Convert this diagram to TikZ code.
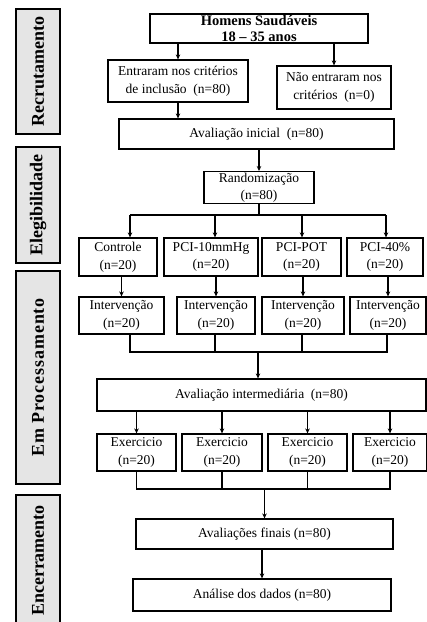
\documentclass[tikz,border=0pt]{standalone}
\usepackage{fontspec}
\setmainfont{Liberation Serif}
\usetikzlibrary{arrows.meta}
\usetikzlibrary{positioning}

\begin{document}
\begin{tikzpicture}[x=1pt,y=-1pt,>={Stealth[length=5pt,width=4.5pt]},line width=1.2pt,
	box/.style={draw,rectangle,align=center,inner sep=1pt,font=\fontsize{13.5}{17.5}\selectfont},
	bar/.style={draw,fill=gray!20,rotate=90,minimum height=44pt,inner sep=0pt,
		line width=1.4pt,font=\fontsize{18}{20}\selectfont\bfseries}]

	\useasboundingbox (0,0) rectangle (427,622);

	\node[bar,minimum width=125pt] (recr) at (38,71.5) {Recrutamento};
	\node[bar,minimum width=116pt] (eleg) at (38,205) {Elegibilidade};
	\node[bar,minimum width=213pt] (proc) at (38,377.5) {\addfontfeature{LetterSpace=5}Em Processamento};
	\node[bar,minimum width=131pt] (ence) at (38,560.5) {Encerramento};

	\node[box,minimum width=218pt,minimum height=29pt,font=\fontsize{14.5}{16.5}\selectfont\bfseries] (homens) at (259,28.5) {Homens Saudáveis\\18 -- 35 anos};
	\node[box,minimum width=140pt,minimum height=42pt] (entraram) at (178,81) {Entraram nos critérios\\de inclusão~ (n=80)};
	\node[box,minimum width=114pt,minimum height=43pt] (nao) at (334,87.5) {Não entraram nos\\critérios~ (n=0)};
	\node[box,minimum width=275pt,minimum height=30pt] (avalini) at (256.5,134) {Avaliação inicial~ (n=80)};
	\node[box,minimum width=110pt,minimum height=31pt] (random) at (259,187.5) {Randomização\\(n=80)};

	\node[box,minimum width=78pt,minimum height=38pt] (controle) at (118,257) {Controle\\(n=20)};
	\node[box,minimum width=94pt,minimum height=38pt] (pci10) at (211,257) {PCI-10mmHg\\(n=20)};
	\node[box,minimum width=79pt,minimum height=38pt] (pcipot) at (301.5,257) {PCI-POT\\(n=20)};
	\node[box,minimum width=76pt,minimum height=38pt] (pci40) at (385,257) {PCI-40\%\\(n=20)};

	\node[box,minimum width=85pt,minimum height=37pt] (interv1) at (121.5,315.5) {Intervenção\\(n=20)};
	\node[box,minimum width=78pt,minimum height=37pt] (interv2) at (216,315.5) {Intervenção\\(n=20)};
	\node[box,minimum width=82pt,minimum height=37pt] (interv3) at (303,315.5) {Intervenção\\(n=20)};
	\node[box,minimum width=76pt,minimum height=37pt] (interv4) at (388,315.5) {Intervenção\\(n=20)};

	\node[box,minimum width=329pt,minimum height=32pt] (avalint) at (261.5,395) {Avaliação intermediária~ (n=80)};

	\node[box,minimum width=79pt,minimum height=37pt] (exerc1) at (136.5,452.5) {Exercicio\\(n=20)};
	\node[box,minimum width=80pt,minimum height=37pt] (exerc2) at (222,452.5) {Exercicio\\(n=20)};
	\node[box,minimum width=79pt,minimum height=37pt] (exerc3) at (307.5,452.5) {Exercicio\\(n=20)};
	\node[box,minimum width=74pt,minimum height=37pt] (exerc4) at (390,452.5) {Exercicio\\(n=20)};

	\node[box,minimum width=257pt,minimum height=30pt] (avalfin) at (264.5,534) {Avaliações finais (n=80)};
	\node[box,minimum width=258pt,minimum height=32pt] (analise) at (262,595) {Análise dos dados (n=80)};

	\coordinate (br1) at (130,215);
	\coordinate (br2) at (215,215);
	\coordinate (br3) at (302,215);
	\coordinate (br4) at (386,215);
	\coordinate (j1) at (130,352);
	\coordinate (j2) at (215,352);
	\coordinate (j3) at (302,352);
	\coordinate (j4) at (387,352);
	\coordinate (jm) at (258,352);
	\coordinate (kk) at (0,489);

	\path[->]
	(homens.south -| entraram) edge (entraram)
	(homens.south -| nao) edge (nao)
	(entraram) edge (entraram |- avalini.north)
	(avalini.south -| random) edge (random)
	(br1) edge (br1 |- controle.north)
	(br2) edge (br2 |- pci10.north)
	(br3) edge (br3 |- pcipot.north)
	(br4) edge (br4 |- pci40.north)
	(controle.south -| interv1) edge (interv1)
	(pci10.south -| interv2) edge (interv2)
	(pcipot.south -| interv3) edge (interv3)
	(pci40.south -| interv4) edge (interv4)
	(jm) edge (jm |- avalint.north)
	(avalint.south -| exerc1) edge (exerc1)
	(avalint.south -| exerc2) edge (exerc2)
	(avalint.south -| exerc3) edge (exerc3)
	(avalint.south -| exerc4) edge (exerc4)
	(avalfin |- kk) edge (avalfin)
	(avalfin.south -| analise) edge (analise);

	\draw (random) -- (random |- br1);
	\draw (br1) -- (br4);
	\draw (j1 |- interv1.south) -- (j1) -- (j4) -- (j4 |- interv4.south);
	\draw (j2 |- interv2.south) -- (j2);
	\draw (j3 |- interv3.south) -- (j3);
	\draw (exerc1) -- (exerc1 |- kk) -- (exerc4 |- kk) -- (exerc4);
	\draw (exerc2) -- (exerc2 |- kk);
	\draw (exerc3) -- (exerc3 |- kk);
\end{tikzpicture}
\end{document}
